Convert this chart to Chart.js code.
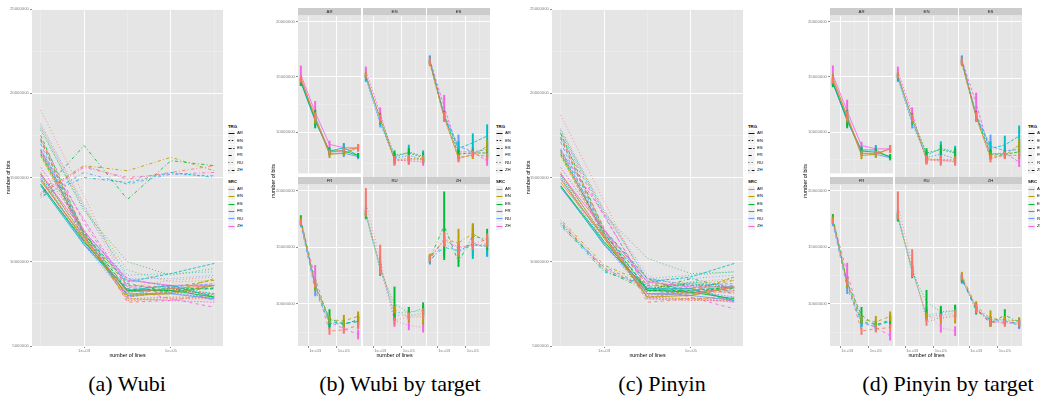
<!DOCTYPE html>
<html>
<head>
<meta charset="utf-8">
<title>Wubi / Pinyin: number of bits by number of lines</title>
<script src="https://cdn.jsdelivr.net/npm/chart.js@4.4.1/dist/chart.umd.min.js"></script>
<style>
  html, body { margin: 0; padding: 0; background: #fff; }
  body { width: 1040px; height: 400px; position: relative; overflow: hidden; font-family: "Liberation Sans", Arial, sans-serif; }
  canvas { position: absolute; }
  .lg { position: absolute; white-space: nowrap; line-height: 1; color: #000; }
  .ytitle { position: absolute; white-space: nowrap; font-size: 5.3px; line-height: 1; color: #000; transform: translate(-50%, -50%) rotate(-90deg); }
  .caption { position: absolute; top: 371px; font: 22px "Liberation Serif", "Times New Roman", serif; color: #000; transform: translateX(-50%); white-space: nowrap; }
</style>
</head>
<body>
<script>
// x: number of lines (log scale), only two of them get a label
const lineCounts = [1e2, 1e3, 1e4, 1e5, 1e6];
const labeledCounts = [1e3, 1e5];
const langs = ["AR", "EN", "ES", "FR", "RU", "ZH"];
const srcColors = ["#F8766D", "#B79F00", "#00BA38", "#00BFC4", "#619CFF", "#F564E3"];
const trgDashes = [[], [1.6, 1.6], [3.2, 1.6], [3.2, 3.2], [0.8, 2.4], [0.8, 2.4, 3.2, 2.4]];

// y ticks, millions of bits (labels every 5M, minor grid in between)
const overviewTicks = [5, 7.5, 10, 12.5, 15, 17.5, 20, 22.5, 25];
const facetTicks = [7.5, 10, 12.5, 15, 17.5, 20];

// number of bits (millions) per target; rows = source AR..ZH, cols = lineCounts
const wubiAR = [[14.8, 11.4, 8.2, 8.4, 8.6], [14.9, 11.3, 8.0, 8.1, 8.6], [14.6, 11.2, 8.3, 8.3, 7.9], [14.5, 11.0, 8.3, 8.6, 7.9], [14.6, 11.1, 8.1, 8.1, 7.8], [15.2, 11.8, 8.9, 8.6, 8.6]];
const wubiEN = [[15.2, 11.5, 7.7, 7.8, 7.8], [15.3, 11.4, 7.8, 7.9, 7.9], [15.2, 11.5, 8.2, 8.4, 8.0], [15.1, 11.2, 8.0, 8.5, 8.1], [15.0, 11.0, 7.9, 8.2, 7.8], [15.6, 11.9, 7.8, 7.7, 7.6]];
const wubiES = [[16.5, 11.6, 7.9, 8.3, 8.1], [16.3, 11.5, 8.0, 8.2, 9.0], [16.4, 11.7, 8.3, 8.4, 8.4], [16.6, 11.6, 8.8, 9.3, 9.9], [16.7, 11.8, 9.0, 8.5, 8.7], [16.6, 12.5, 8.5, 8.5, 7.7]];
const wubiFR = [[17.2, 11.8, 7.6, 7.7, 8.1], [17.3, 11.6, 8.6, 8.5, 8.9], [17.5, 11.7, 8.7, 8.2, 8.6], [17.2, 11.5, 8.4, 8.3, 8.4], [17.0, 11.2, 8.3, 8.2, 8.5], [17.3, 12.3, 8.4, 7.8, 7.3]];
const wubiRU = [[19.0, 13.9, 8.5, 8.9, 9.1], [18.0, 13.2, 9.5, 8.8, 8.9], [17.9, 13.0, 10.0, 9.2, 9.6], [17.8, 13.1, 9.2, 9.3, 9.4], [18.2, 13.4, 9.0, 9.0, 9.2], [18.1, 13.3, 8.5, 8.1, 7.9]];
const wubiZH = [[14.0, 15.7, 14.9, 15.3, 15.7], [14.1, 15.7, 15.4, 16.2, 15.4], [14.0, 16.9, 13.7, 16.0, 15.7], [13.9, 15.0, 14.7, 15.3, 15.0], [13.8, 15.3, 14.6, 15.2, 15.1], [14.0, 15.6, 15.0, 15.2, 15.3]];

const pinyinAR = [[14.7, 11.5, 8.1, 8.1, 8.5], [14.9, 11.4, 7.9, 8.0, 8.5], [14.5, 11.2, 8.3, 8.2, 7.8], [14.5, 11.0, 8.4, 8.4, 7.7], [14.4, 11.1, 8.1, 8.0, 7.7], [15.2, 11.9, 8.8, 8.5, 8.5]];
const pinyinEN = [[15.2, 11.5, 7.8, 7.7, 7.7], [15.3, 11.4, 7.9, 7.8, 7.8], [15.2, 11.5, 8.4, 8.7, 8.4], [15.1, 11.2, 8.2, 8.8, 8.5], [15.0, 11.0, 8.0, 8.3, 7.9], [15.6, 11.9, 7.8, 7.8, 7.6]];
const pinyinES = [[16.5, 11.6, 7.9, 8.2, 8.2], [16.3, 11.5, 8.1, 8.2, 9.1], [16.4, 11.7, 8.3, 8.3, 8.5], [16.6, 11.6, 8.8, 9.1, 9.9], [16.7, 11.8, 9.0, 8.6, 8.7], [16.6, 12.8, 8.3, 8.4, 7.6]];
const pinyinFR = [[17.3, 12.0, 7.6, 7.8, 7.9], [17.4, 11.8, 8.6, 8.4, 8.9], [17.6, 11.9, 9.0, 8.1, 8.6], [17.3, 11.7, 8.4, 8.2, 8.4], [17.1, 11.4, 8.3, 8.0, 8.5], [17.4, 12.7, 8.5, 7.9, 7.2]];
const pinyinRU = [[18.7, 13.6, 8.4, 8.8, 9.0], [17.8, 13.0, 8.9, 8.7, 8.9], [17.6, 12.8, 10.2, 9.3, 9.4], [17.7, 12.9, 9.0, 9.2, 9.4], [17.9, 13.1, 8.9, 9.0, 9.2], [17.8, 13.0, 9.2, 7.9, 7.6]];
const pinyinZH = [[12.4, 9.6, 8.4, 8.3, 8.3], [12.5, 9.8, 8.7, 8.6, 8.5], [12.3, 9.5, 8.3, 9.0, 8.4], [12.2, 9.4, 8.6, 8.6, 8.2], [12.1, 9.7, 8.5, 8.5, 8.1], [12.3, 9.6, 8.4, 8.4, 8.3]];

// error bar half widths (millions), same layout
const wubiErrAR = [[0.3, 0.3, 0.2, 0.2, 0.3], [0.2, 0.5, 0.3, 0.2, 0.2], [0.4, 0.8, 0.3, 0.3, 0.2], [0.3, 0.4, 0.3, 0.4, 0.2], [0.2, 0.3, 0.2, 0.3, 0.2], [0.8, 1.0, 0.3, 0.3, 0.3]];
const wubiErrEN = [[0.2, 0.3, 0.4, 0.4, 0.3], [0.2, 0.3, 0.3, 0.3, 0.3], [0.2, 0.4, 0.4, 0.4, 0.4], [0.3, 0.3, 0.4, 0.6, 0.5], [0.3, 0.3, 0.5, 0.5, 0.3], [0.4, 0.5, 0.3, 0.3, 0.3]];
const wubiErrES = [[0.3, 0.4, 0.3, 0.3, 0.3], [0.2, 0.3, 0.3, 0.3, 0.5], [0.2, 0.4, 0.4, 0.3, 0.4], [0.3, 0.4, 0.6, 0.8, 1.0], [0.3, 0.3, 1.0, 0.4, 0.6], [0.3, 1.0, 0.3, 0.3, 0.4]];
const wubiErrFR = [[0.2, 0.3, 0.3, 0.3, 0.3], [0.3, 0.4, 0.3, 0.5, 0.4], [0.3, 0.4, 0.8, 0.3, 0.4], [0.2, 0.3, 0.4, 0.3, 0.5], [0.2, 0.5, 0.3, 0.3, 0.4], [0.3, 1.1, 0.3, 0.3, 0.4]];
const wubiErrRU = [[1.2, 1.3, 0.3, 0.3, 0.4], [0.3, 0.4, 0.3, 0.4, 0.7], [0.3, 0.5, 1.5, 0.5, 0.5], [0.3, 0.4, 0.6, 0.4, 0.4], [0.4, 0.8, 0.3, 0.4, 0.4], [0.3, 0.4, 0.5, 0.4, 0.4]];
const wubiErrZH = [[0.3, 0.6, 0.5, 0.5, 0.5], [0.3, 0.6, 1.2, 0.9, 0.4], [0.3, 3.0, 0.4, 1.0, 0.9], [0.3, 0.8, 0.6, 1.3, 0.8], [0.3, 0.6, 0.5, 0.9, 0.9], [0.3, 0.5, 0.4, 0.5, 0.5]];

const pinyinErrAR = [[0.3, 0.4, 0.2, 0.2, 0.3], [0.3, 0.5, 0.3, 0.2, 0.3], [0.4, 0.8, 0.3, 0.3, 0.2], [0.3, 0.4, 0.3, 0.4, 0.2], [0.2, 0.3, 0.2, 0.3, 0.2], [0.8, 1.0, 0.3, 0.3, 0.3]];
const pinyinErrEN = [[0.2, 0.3, 0.4, 0.4, 0.3], [0.2, 0.3, 0.3, 0.3, 0.3], [0.2, 0.4, 0.4, 0.4, 0.4], [0.3, 0.3, 0.4, 0.6, 0.5], [0.3, 0.4, 0.5, 0.5, 0.3], [0.4, 0.5, 0.3, 0.3, 0.3]];
const pinyinErrES = [[0.3, 0.4, 0.3, 0.3, 0.3], [0.2, 0.3, 0.3, 0.3, 0.5], [0.2, 0.4, 0.4, 0.3, 0.4], [0.3, 0.4, 0.6, 0.8, 0.9], [0.3, 0.3, 1.0, 0.4, 0.8], [0.3, 0.9, 0.3, 0.3, 0.4]];
const pinyinErrFR = [[0.2, 0.3, 0.3, 0.3, 0.3], [0.3, 0.4, 0.3, 0.5, 0.4], [0.3, 0.4, 0.7, 0.3, 0.4], [0.2, 0.3, 0.4, 0.3, 0.5], [0.2, 0.5, 0.3, 0.3, 0.4], [0.3, 0.9, 0.3, 0.3, 0.4]];
const pinyinErrRU = [[1.2, 1.2, 0.3, 0.3, 0.4], [0.3, 0.4, 0.3, 0.4, 0.6], [0.3, 0.5, 1.0, 0.5, 0.5], [0.3, 0.4, 0.5, 0.4, 0.4], [0.4, 0.7, 0.3, 0.4, 0.4], [0.3, 0.4, 0.5, 0.4, 0.4]];
const pinyinErrZH = [[0.3, 0.4, 0.3, 0.3, 0.3], [0.3, 0.4, 0.7, 0.3, 0.3], [0.3, 0.4, 0.3, 0.5, 0.3], [0.3, 0.3, 0.3, 0.3, 0.3], [0.3, 0.4, 0.3, 0.3, 0.3], [0.3, 0.3, 0.3, 0.3, 0.3]];

const wubi = [wubiAR, wubiEN, wubiES, wubiFR, wubiRU, wubiZH];
const wubiErr = [wubiErrAR, wubiErrEN, wubiErrES, wubiErrFR, wubiErrRU, wubiErrZH];
const pinyin = [pinyinAR, pinyinEN, pinyinES, pinyinFR, pinyinRU, pinyinZH];
const pinyinErr = [pinyinErrAR, pinyinErrEN, pinyinErrES, pinyinErrFR, pinyinErrRU, pinyinErrZH];

Chart.defaults.font.family = "'Liberation Sans', Arial, sans-serif";
const tickFont = { size: 4.3 };
const titleFont = { size: 5.3 };
const tickGrey = "#7F7F7F";
// 1e2 .. 1e6 plus the usual 5% padding on each side (in log10 units)
const xMin = Math.pow(10, 1.8), xMax = Math.pow(10, 6.2);

const isMajorBits = v => Math.abs(v % 5) < 1e-9;
const isLabeled = v => labeledCounts.includes(v);
const sci = v => "1e+" + String(Math.round(Math.log10(v))).padStart(2, "0");

// grey panel + facet strip
const panelPlugin = {
    id: "panel",
    beforeDraw(chart, args, opts) {
        const { ctx, chartArea: a } = chart;
        ctx.save();
        ctx.fillStyle = "#E5E5E5";
        ctx.fillRect(a.left, a.top, a.right - a.left, a.bottom - a.top);
        if (opts.strip) {
            ctx.fillStyle = "#CCCCCC";
            ctx.fillRect(a.left, a.top - 8, a.right - a.left, 7.5);
            ctx.fillStyle = "#1A1A1A";
            ctx.font = "4.3px 'Liberation Sans', Arial, sans-serif";
            ctx.textAlign = "center";
            ctx.textBaseline = "middle";
            ctx.fillText(opts.strip, (a.left + a.right) / 2, a.top - 4);
        }
        ctx.restore();
    }
};

function lineSet(row, s, t) {
    return {
        type: "line",
        data: lineCounts.map((x, i) => ({ x: x, y: row[i] })),
        borderColor: srcColors[s],
        borderWidth: 0.85,
        borderDash: trgDashes[t],
        pointRadius: 0,
        fill: false,
        tension: 0
    };
}

function errorSet(row, err, s) {
    return {
        type: "bar",
        data: lineCounts.map((x, i) => ({ x: x, y: [row[i] - err[i], row[i] + err[i]] })),
        backgroundColor: srcColors[s],
        borderWidth: 0,
        barThickness: 1.3,
        grouped: false
    };
}

function makeChart(o) {
    const canvas = document.createElement("canvas");
    canvas.width = o.w;
    canvas.height = o.h;
    canvas.style.left = o.x + "px";
    canvas.style.top = o.y + "px";
    document.body.appendChild(canvas);

    new Chart(canvas, {
        type: "line",
        data: { datasets: o.datasets },
        options: {
            responsive: false,
            animation: false,
            devicePixelRatio: 1,
            events: [],
            layout: { padding: { top: o.padTop, right: o.padRight, left: 0, bottom: 0 } },
            plugins: {
                legend: { display: false },
                tooltip: { enabled: false },
                panel: { strip: o.strip }
            },
            scales: {
                x: {
                    type: "logarithmic",
                    bounds: "data",
                    min: xMin,
                    max: xMax,
                    offset: false,
                    afterBuildTicks: s => {
                        s.ticks = lineCounts.map(v => ({ value: v }));
                        s.min = xMin;
                        s.max = xMax;
                    },
                    afterFit: s => { s.height = o.xH; },
                    border: { display: false },
                    grid: {
                        color: c => (c.tick && isLabeled(c.tick.value)) ? "#FFFFFF" : "#F2F2F2",
                        lineWidth: c => (c.tick && isLabeled(c.tick.value)) ? 0.9 : 0.45,
                        drawTicks: o.showX,
                        tickLength: 2,
                        tickColor: c => (c.tick && isLabeled(c.tick.value)) ? tickGrey : "rgba(0,0,0,0)"
                    },
                    ticks: {
                        display: o.showX,
                        autoSkip: false,
                        maxRotation: 0,
                        padding: 0,
                        color: tickGrey,
                        font: tickFont,
                        callback: v => isLabeled(v) ? sci(v) : ""
                    },
                    title: { display: !!o.xTitle, text: o.xTitle, color: "#000", font: titleFont, padding: { top: 0, bottom: 1 } }
                },
                y: {
                    type: "linear",
                    bounds: "data",
                    min: o.yMin,
                    max: o.yMax,
                    afterBuildTicks: s => {
                        s.ticks = o.yTicks.map(v => ({ value: v }));
                        s.min = o.yMin;
                        s.max = o.yMax;
                    },
                    afterFit: s => { s.width = o.yW; },
                    border: { display: false },
                    grid: {
                        color: c => (c.tick && isMajorBits(c.tick.value)) ? "#FFFFFF" : "#F2F2F2",
                        lineWidth: c => (c.tick && isMajorBits(c.tick.value)) ? 0.9 : 0.45,
                        drawTicks: o.showY,
                        tickLength: 2,
                        tickColor: c => (c.tick && isMajorBits(c.tick.value)) ? tickGrey : "rgba(0,0,0,0)"
                    },
                    ticks: {
                        display: o.showY,
                        autoSkip: false,
                        padding: 1,
                        color: tickGrey,
                        font: tickFont,
                        callback: v => isMajorBits(v) ? String(Math.round(v * 1000000)) : ""
                    },
                    title: { display: !!o.yTitle, text: o.yTitle, color: "#000", font: titleFont, padding: { top: 5, bottom: 0 } }
                }
            }
        },
        plugins: [panelPlugin]
    });
}

// (a) / (c): all 36 source-target lines in one panel
function overviewPanel(x0, values) {
    const datasets = [];
    values.forEach((block, t) => block.forEach((row, s) => datasets.push(lineSet(row, s, t))));
    makeChart({
        x: x0, y: 0, w: 226, h: 360, padTop: 9, padRight: 3, yW: 32, xH: 14,
        yMin: 5, yMax: 25, yTicks: overviewTicks, showX: true, showY: true,
        xTitle: "number of lines", yTitle: "number of bits", strip: "", datasets: datasets
    });
    addLegend(x0 + 228);
}

// (b) / (d): one facet per target language
const facetCols = [0, 65, 129];
function facetPanel(x0, values, errors) {
    langs.forEach((trg, t) => {
        const col = t % 3, row = Math.floor(t / 3);
        const yW = col === 0 ? 22 : 0;
        const xH = row === 1 ? 14 : 0;
        const datasets = [];
        values[t].forEach((r, s) => datasets.push(errorSet(r, errors[t][s], s)));
        values[t].forEach((r, s) => datasets.push(lineSet(r, s, t)));
        makeChart({
            x: x0 + facetCols[col] - yW, y: row === 0 ? 8 : 177, w: yW + 63, h: 8 + 161 + xH,
            padTop: 8, padRight: 0, yW: yW, xH: xH,
            yMin: 6.28, yMax: 20.5, yTicks: facetTicks, showX: row === 1, showY: col === 0,
            xTitle: (row === 1 && col === 1) ? "number of lines" : "", yTitle: "",
            strip: trg, datasets: datasets
        });
    });
    const yt = document.createElement("div");
    yt.className = "ytitle";
    yt.textContent = "number of bits";
    yt.style.left = (x0 - 24.5) + "px";
    yt.style.top = "181px";
    document.body.appendChild(yt);
    addLegend(x0 + 198);
}

function addLegend(left) {
    let html = "";
    const title = (y, txt) => `<div class="lg" style="left:${left}px;top:${y - 2.5}px;font-size:4.3px;font-weight:bold">${txt}</div>`;
    const key = (y, color, dash, txt, w) =>
        `<svg width="7" height="7" style="position:absolute;left:${left}px;top:${y - 3.5}px">` +
        `<rect x="0" y="0" width="7" height="7" fill="#F2F2F2"/>` +
        `<line x1="0.5" y1="3.5" x2="6.5" y2="3.5" stroke="${color}" stroke-width="${w}"` +
        (dash.length ? ` stroke-dasharray="${dash.join(" ")}"` : "") + `/></svg>` +
        `<div class="lg" style="left:${left + 9}px;top:${y - 2.2}px;font-size:4.3px">${txt}</div>`;
    html += title(127, "TRG");
    langs.forEach((l, i) => { html += key(133.3 + i * 7.4, "#000", trgDashes[i], l, 0.9); });
    html += title(182.7, "SRC");
    langs.forEach((l, i) => { html += key(189.3 + i * 7.35, srcColors[i], [], l, 1.1); });
    document.body.insertAdjacentHTML("beforeend", html);
}

function addCaption(cx, txt) {
    const d = document.createElement("div");
    d.className = "caption";
    d.style.left = cx + "px";
    d.textContent = txt;
    document.body.appendChild(d);
}

overviewPanel(0, wubi);
facetPanel(298, wubi, wubiErr);
overviewPanel(520, pinyin);
facetPanel(830, pinyin, pinyinErr);

addCaption(127, "(a) Wubi");
addCaption(400, "(b) Wubi by target");
addCaption(662, "(c) Pinyin");
addCaption(948, "(d) Pinyin by target");
</script>
</body>
</html>
